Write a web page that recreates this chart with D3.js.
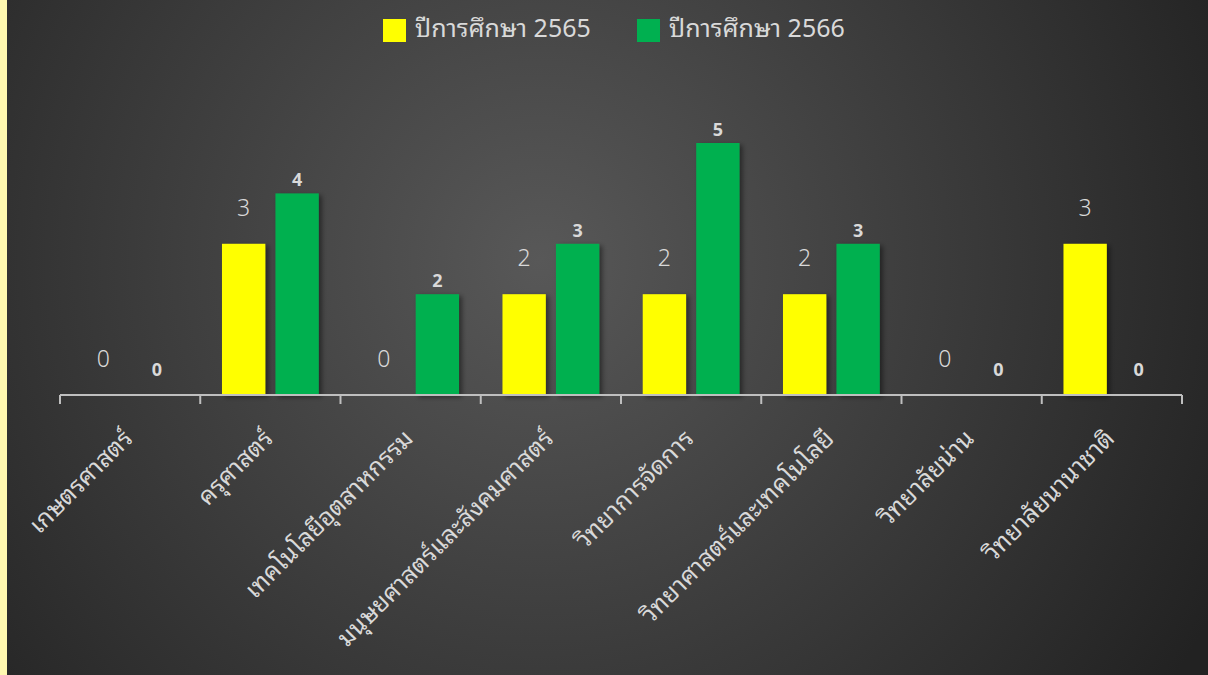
<!DOCTYPE html>
<html>
<head>
<meta charset="utf-8">
<script src="https://cdn.jsdelivr.net/npm/d3@7"></script>
<style>
  html, body { margin: 0; padding: 0; background: #2b2b2b; }
  svg { display: block; }
</style>
</head>
<body>
<script>
// Chart data
const categories = ["เกษตรศาสตร์", "ครุศาสตร์", "เทคโนโลยีอุตสาหกรรม", "มนุษยศาสตร์และสังคมศาสตร์",
    "วิทยาการจัดการ", "วิทยาศาสตร์และเทคโนโลยี", "วิทยาลัยน่าน", "วิทยาลัยนานาชาติ"];
const seriesNames = ["ปีการศึกษา 2565", "ปีการศึกษา 2566"];
const values2565 = [0, 3, 0, 2, 2, 2, 0, 3];
const values2566 = [0, 4, 2, 3, 5, 3, 0, 0];
const seriesColors = ["#ffff00", "#00b050"];

const canvWidth = 1208, canvHeight = 675;
const fontFamily = "'Noto Sans Thai Looped', 'Noto Sans', sans-serif";

const svg = d3.select("body").append("svg")
    .attr("width", canvWidth)
    .attr("height", canvHeight);

// Background: radial gradient, lighter toward the middle
const defs = svg.append("defs");
const bg = defs.append("radialGradient")
    .attr("id", "bg")
    .attr("gradientUnits", "userSpaceOnUse")
    .attr("cx", 540).attr("cy", 260).attr("r", 760);
bg.append("stop").attr("offset", "0%").attr("stop-color", "#585858");
bg.append("stop").attr("offset", "100%").attr("stop-color", "#222222");

const shadow = defs.append("filter").attr("id", "shadow")
    .attr("x", "-20%").attr("y", "-10%").attr("width", "150%").attr("height", "130%");
shadow.append("feDropShadow")
    .attr("dx", 3).attr("dy", 2).attr("stdDeviation", 2.5)
    .attr("flood-color", "#000").attr("flood-opacity", 0.45);

svg.append("rect")
    .attr("width", canvWidth).attr("height", canvHeight)
    .attr("fill", "url(#bg)");

// pale yellow strip on the left edge
svg.append("rect")
    .attr("x", 0).attr("y", 0).attr("width", 7).attr("height", canvHeight)
    .attr("fill", "#fff8b0");

// Scales
const x = d3.scaleBand()
    .domain(categories)
    .range([60, 1182])
    .paddingInner(0).paddingOuter(0);

const xInner = d3.scaleBand()
    .domain(seriesNames)
    .range([x.bandwidth() * 0.155, x.bandwidth() * 0.845])
    .paddingInner(0.19);

const y = d3.scaleLinear()
    .domain([0, 5])
    .range([395, 143]);

const rows = categories.map((c, i) => ({
    category: c,
    vals: [values2565[i], values2566[i]]
}));

// Bars
const groups = svg.append("g").selectAll("g")
    .data(rows)
    .join("g")
    .attr("transform", d => "translate(" + x(d.category) + ",0)");

groups.selectAll("rect")
    .data(d => d.vals.map((v, k) => ({series: seriesNames[k], value: v, k: k})))
    .join("rect")
    .attr("x", d => xInner(d.series))
    .attr("y", d => y(d.value))
    .attr("width", xInner.bandwidth())
    .attr("height", d => y(0) - y(d.value))
    .attr("fill", d => seriesColors[d.k])
    .attr("filter", "url(#shadow)");

// Value labels: 2565 light, 2566 bold
groups.selectAll("text")
    .data(d => d.vals.map((v, k) => ({series: seriesNames[k], value: v, k: k})))
    .join("text")
    .attr("x", d => xInner(d.series) + xInner.bandwidth() / 2)
    .attr("y", d => d.k === 0 ? y(d.value) - 28 : y(d.value) - (d.value === 0 ? 19 : 7))
    .attr("text-anchor", "middle")
    .attr("font-family", "'Noto Sans', sans-serif")
    .attr("font-size", d => d.k === 0 ? "23px" : "18px")
    .attr("font-weight", d => d.k === 0 ? 300 : 700)
    .attr("fill", "#d9d9d9")
    .text(d => d.value);

// X axis
const xAxis = d3.axisBottom(x).tickSize(0).tickFormat("");
const axisG = svg.append("g")
    .attr("transform", "translate(0," + y(0) + ")")
    .call(xAxis);
axisG.select(".domain").remove();
axisG.append("line")
    .attr("x1", 60).attr("x2", 1182)
    .attr("stroke", "#bfbfbf").attr("stroke-width", 2);

// boundary ticks
const bounds = categories.map(c => x(c)).concat([x.range()[1]]);
axisG.selectAll(".bound")
    .data(bounds)
    .join("line")
    .attr("class", "bound")
    .attr("x1", d => d).attr("x2", d => d)
    .attr("y1", 0).attr("y2", 9)
    .attr("stroke", "#bfbfbf").attr("stroke-width", 2);

// rotated category labels
svg.append("g").selectAll("text")
    .data(categories)
    .join("text")
    .attr("transform", d => "translate(" + (x(d) + x.bandwidth() / 2 + 4) + ",440) rotate(-45)")
    .attr("text-anchor", "end")
    .attr("font-family", fontFamily)
    .attr("font-size", "24.5px")
    .attr("fill", "#d9d9d9")
    .text(d => d);

// Legend
const legend = svg.append("g");
const legendX = [383, 637];
seriesNames.forEach((name, k) => {
    legend.append("rect")
        .attr("x", legendX[k]).attr("y", 19)
        .attr("width", 23).attr("height", 23)
        .attr("fill", seriesColors[k]);
    legend.append("text")
        .attr("x", legendX[k] + 32).attr("y", 37)
        .attr("font-family", fontFamily)
        .attr("font-size", "25px")
        .attr("fill", "#d9d9d9")
        .text(name);
});
</script>
</body>
</html>
